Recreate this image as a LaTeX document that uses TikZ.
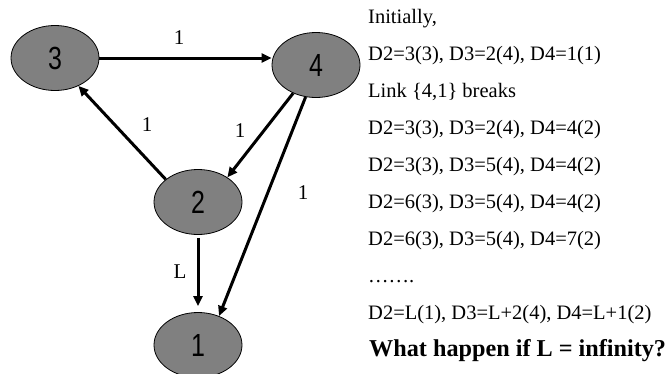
\documentclass[tikz,border=0pt]{standalone}
\usepackage{fontspec}
\setmainfont{Liberation Serif}
\newfontfamily\digitfont{Liberation Sans}
\usetikzlibrary{shapes.geometric,arrows.meta}
\tikzset{
  router/.style={ellipse, draw=black, line width=0.8pt, fill=black!50,
    minimum width=88pt, minimum height=65pt, inner sep=0pt,
    font=\digitfont\fontsize{32}{32}\selectfont},
  link/.style={line width=3pt, -{Triangle[length=10pt,width=9pt]}},
  cost/.style={font=\fontsize{21}{21}\selectfont},
  trace/.style={anchor=base west, inner sep=0pt, font=\fontsize{20.5}{21}\selectfont},
}
\newcommand{\narrow}[1]{\scalebox{0.78}[1]{#1}}
\begin{document}
\begin{tikzpicture}[x=1pt, y=-1pt]
  \useasboundingbox (0,0) rectangle (669,373);

  % routers
  \node[router] (n3) at (55,58)   {\narrow{3}};
  \node[router] (n4) at (316,65)  {\narrow{4}};
  \node[router] (n2) at (198,202) {\narrow{2}};
  \node[router] (n1) at (198,345) {\narrow{1}};

  % links with their costs
  \draw[link] (n3.east) -- (n3.east -| n4.west);
  \draw[link] (n2.145) -- (n3.310);
  \draw[link] (n4.231) -- (n2.40);
  \draw[link] (n4.252) -- (n1.54);
  \draw[link, shorten <=3pt, shorten >=6pt] (n2.south) -- (n1.north);

  \node[cost] (c34) at (179,38)  {1};
  \node[cost] (c23) at (147,125) {1};
  \node[cost] (c42) at (240,131) {1};
  \node[cost] (c41) at (303,193) {1};
  \node[cost] (c21) at (180,272) {L};

  % distance-vector trace
  \node[trace] (t1) at (368,23)  {Initially,};
  \node[trace] (t2) at (368,60)  {D2=3(3), D3=2(4), D4=1(1)};
  \node[trace] (t3) at (368,97)  {Link \{4,1\} breaks};
  \node[trace] (t4) at (368,134) {D2=3(3), D3=2(4), D4=4(2)};
  \node[trace] (t5) at (368,171) {D2=3(3), D3=5(4), D4=4(2)};
  \node[trace] (t6) at (368,208) {D2=6(3), D3=5(4), D4=4(2)};
  \node[trace] (t7) at (368,245) {D2=6(3), D3=5(4), D4=7(2)};
  \node[trace] (t8) at (368,282) {…….};
  \node[trace] (t9) at (368,319) {D2=L(1), D3=L+2(4), D4=L+1(2)};
  \node[trace, font=\bfseries\fontsize{24.2}{25}\selectfont] (q) at (369,356) {What happen if L = infinity?};
\end{tikzpicture}
\end{document}
